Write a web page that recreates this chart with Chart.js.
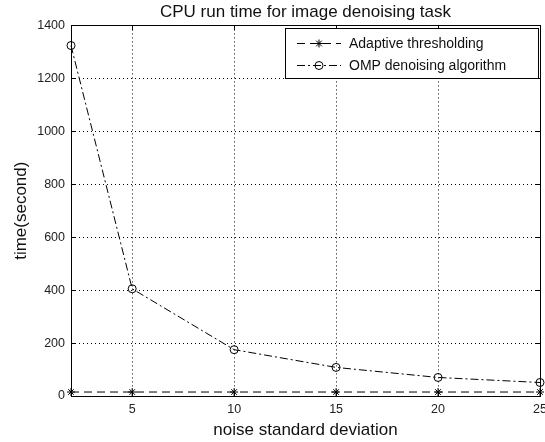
<!DOCTYPE html>
<html><head><meta charset="utf-8">
<script src="https://cdn.jsdelivr.net/npm/chart.js@4"></script>
<style>html,body{margin:0;padding:0;background:#fff}#wrap{width:545px;height:442px}</style>
</head><body><div id="wrap"><canvas id="c" width="545" height="442"></canvas></div>
<script>
const noiseStd = [2, 5, 10, 15, 20, 25];
const adaptiveTime = [15, 15, 15, 15, 15, 15];
const ompTime = [1324, 405, 175, 108, 70, 51];
const xTicks = [5, 10, 15, 20, 25];
const seriesNames = ['Adaptive thresholding', 'OMP denoising algorithm'];
const FONT = 'Liberation Sans, Arial, sans-serif';

const framePlugin = {
  id: 'frame',
  afterDraw(chart) {
    const {ctx, chartArea: a, scales} = chart;
    ctx.save();
    ctx.strokeStyle = '#000';
    ctx.lineWidth = 1;
    ctx.setLineDash([]);
    ctx.strokeRect(Math.round(a.left)+0.5, Math.round(a.top)+0.5, Math.round(a.right-a.left), Math.round(a.bottom-a.top));
    const tl = 5;
    ctx.beginPath();
    xTicks.forEach(v => {
      const x = Math.round(scales.x.getPixelForValue(v))+0.5;
      ctx.moveTo(x, a.bottom); ctx.lineTo(x, a.bottom - tl);
      ctx.moveTo(x, a.top); ctx.lineTo(x, a.top + tl);
    });
    scales.y.ticks.forEach(t => {
      const y = Math.round(scales.y.getPixelForValue(t.value))+0.5;
      ctx.moveTo(a.left, y); ctx.lineTo(a.left + tl, y);
      ctx.moveTo(a.right, y); ctx.lineTo(a.right - tl, y);
    });
    ctx.stroke();
    // legend
    const lx = 285, ly = 28, lw = 253, lh = 50;
    ctx.fillStyle = '#fff';
    ctx.fillRect(lx, ly, lw, lh);
    ctx.strokeStyle = '#000';
    ctx.strokeRect(lx+0.5, ly+0.5, lw, lh);
    const rows = [
      {y: 43, dash: [8, 5], style: 'star'},
      {y: 65, dash: [8, 3, 2, 3], style: 'circle'}
    ];
    ctx.font = '14px ' + FONT;
    ctx.textBaseline = 'middle';
    rows.forEach((r, i) => {
      ctx.strokeStyle = '#000';
      ctx.lineWidth = 1;
      ctx.setLineDash(r.dash);
      ctx.beginPath();
      ctx.moveTo(lx + 12, r.y + 0.5); ctx.lineTo(lx + 56, r.y + 0.5);
      ctx.stroke();
      ctx.setLineDash([]);
      ctx.fillStyle = 'rgba(0,0,0,0)';
      Chart.helpers.drawPoint(ctx, {pointStyle: r.style, radius: 4, rotation: 0, borderWidth: 1}, lx + 34, r.y + 0.5);
      ctx.fillStyle = '#111';
      ctx.fillText(seriesNames[i], lx + 64, r.y + 1);
    });
    ctx.restore();
  }
};

const tickFont = {family: FONT, size: 12.5};
new Chart(document.getElementById('c'), {
  type: 'line',
  data: {
    datasets: [
      {label: seriesNames[0], data: noiseStd.map((x, i) => ({x, y: adaptiveTime[i]})),
       borderColor: '#000', borderWidth: 1, borderDash: [8, 5], pointStyle: 'star', pointRadius: 4,
       pointBorderColor: '#000', pointBackgroundColor: 'rgba(0,0,0,0)', pointBorderWidth: 1, tension: 0},
      {label: seriesNames[1], data: noiseStd.map((x, i) => ({x, y: ompTime[i]})),
       borderColor: '#000', borderWidth: 1, borderDash: [8, 3, 2, 3], pointStyle: 'circle', pointRadius: 4,
       pointBorderColor: '#000', pointBackgroundColor: 'rgba(0,0,0,0)', pointBorderWidth: 1, tension: 0}
    ]
  },
  options: {
    responsive: false,
    animation: false,
    clip: false,
    layout: {padding: {left: 0, right: 3, top: 0, bottom: 0}},
    plugins: {
      legend: {display: false},
      tooltip: {enabled: false},
      title: {display: true, fullSize: false, text: 'CPU run time for image denoising task', color: '#111',
        font: {family: FONT, size: 17, weight: 'normal'}, padding: {top: 2, bottom: 3}}
    },
    scales: {
      x: {
        type: 'linear', min: 2, max: 25,
        afterBuildTicks: s => { s.ticks = xTicks.map(v => ({value: v})); },
        ticks: {color: '#222', font: tickFont, padding: 6, maxRotation: 0, autoSkip: false,
          callback: v => String(v)},
        grid: {color: '#000', lineWidth: 1, drawTicks: false},
        border: {display: false, dash: [1, 3]},
        title: {display: true, text: 'noise standard deviation', color: '#111', font: {family: FONT, size: 17}, padding: {top: 0, bottom: 1}},
        afterFit: s => { s.height = 46; s.paddingLeft = 0; s.paddingRight = 0; }
      },
      y: {
        type: 'linear', min: 0, max: 1400,
        ticks: {stepSize: 200, color: '#222', font: tickFont, padding: 6, callback: v => String(v)},
        grid: {color: '#000', lineWidth: 1, drawTicks: false},
        border: {display: false, dash: [1, 3]},
        title: {display: true, text: 'time(second)', color: '#111', font: {family: FONT, size: 17}, padding: {top: 11, bottom: 0}},
        afterFit: s => { s.width = 71; }
      }
    }
  },
  plugins: [framePlugin]
});
</script>
</body></html>
